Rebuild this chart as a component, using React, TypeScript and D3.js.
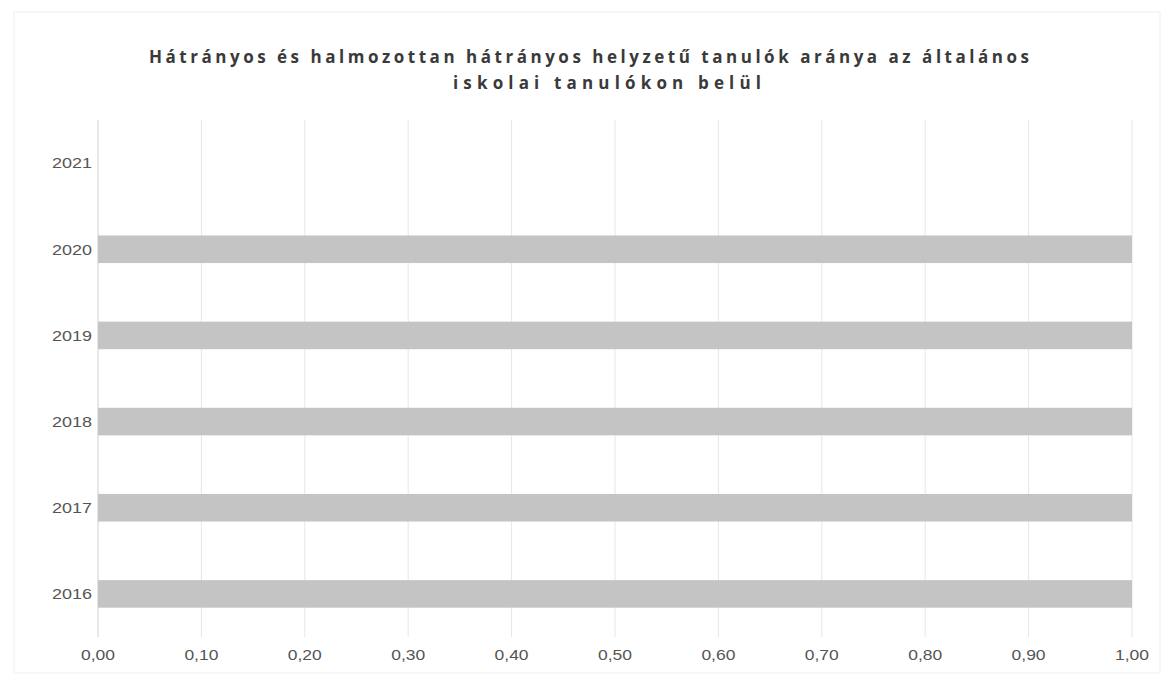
import React from "react";
import * as d3 from "d3";

const titleLines = [
  "Hátrányos és halmozottan hátrányos helyzetű  tanulók aránya az általános",
  "iskolai tanulókon belül",
];
const years = ["2021", "2020", "2019", "2018", "2017", "2016"];
const shares = [0, 1, 1, 1, 1, 1];
const xTicks = [0, 0.1, 0.2, 0.3, 0.4, 0.5, 0.6, 0.7, 0.8, 0.9, 1.0];

const W = 1168;
const H = 677;
const M = { left: 98, right: 36, top: 120, bottom: 40 };

export default function App() {
  const x = d3.scaleLinear().domain([0, 1]).range([M.left, W - M.right]);
  const y = d3
    .scaleBand<string>()
    .domain(years)
    .range([M.top, H - M.bottom])
    .paddingInner(0.68)
    .paddingOuter(0.34);
  const fmt = (v: number) => d3.format(".2f")(v).replace(".", ",");
  const bottom = H - M.bottom;
  return (
    <div style={{ position: "absolute", left: 0, top: 0 }}>
      <svg width={W} height={H} style={{ display: "block", background: "#fff" }}>
        <rect x={14} y={12} width={W - 22} height={H - 16} fill="none" stroke="#f0f0f0" />
        {titleLines.map((t, i) => (
          <text
            key={i}
            x={i === 0 ? 589 : 607}
            y={i === 0 ? 63 : 89}
            textAnchor="middle"
            fontFamily="'Open Sans', 'DejaVu Sans', sans-serif"
            fontWeight="bold"
            fontSize={17}
            fill="#3a3a3a"
            textLength={i === 0 ? 880 : 308}
            lengthAdjust="spacing"
          >
            {t}
          </text>
        ))}
        {xTicks.map((t) => (
          <line
            key={"g" + t}
            x1={x(t)}
            x2={x(t)}
            y1={M.top}
            y2={bottom}
            stroke={t === 0 ? "#cfcfcf" : "#e6e6e6"}
            strokeWidth={1}
          />
        ))}
        {years.map((yr, i) => (
          <rect
            key={"b" + yr}
            x={x(0)}
            y={y(yr)!}
            width={x(shares[i]) - x(0)}
            height={y.bandwidth()}
            fill="#c4c4c4"
          />
        ))}
        {years.map((yr) => (
          <text
            key={"y" + yr}
            x={M.left - 6}
            y={y(yr)! + y.bandwidth() / 2}
            dy="0.35em"
            textAnchor="end"
            fontFamily="'Liberation Sans', sans-serif"
            fontSize={15}
            fill="#555"
            textLength={40}
            lengthAdjust="spacingAndGlyphs"
          >
            {yr}
          </text>
        ))}
        {xTicks.map((t) => (
          <text
            key={"x" + t}
            x={x(t)}
            y={bottom + 18}
            dy="0.35em"
            textAnchor="middle"
            fontFamily="'Liberation Sans', sans-serif"
            fontSize={15}
            fill="#555"
            textLength={34}
            lengthAdjust="spacingAndGlyphs"
          >
            {fmt(t)}
          </text>
        ))}
      </svg>
    </div>
  );
}
